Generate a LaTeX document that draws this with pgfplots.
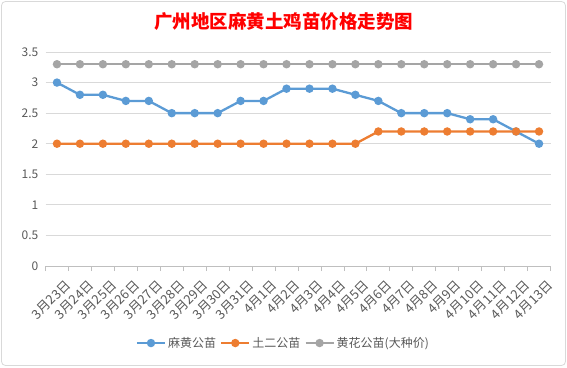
\documentclass[border=0pt]{standalone}
\usepackage{fontspec}
\setmainfont{Noto Sans CJK SC}
\usepackage{pgfplots}
\usepackage{pgfplotstable}
\pgfplotsset{compat=1.18}
\definecolor{cblue}{HTML}{5B9BD5}
\definecolor{corange}{HTML}{ED7D31}
\definecolor{cgray}{HTML}{A5A5A5}
\definecolor{ctext}{HTML}{595959}
\definecolor{cgrid}{HTML}{D9D9D9}
\definecolor{caxis}{HTML}{BFBFBF}
\pgfplotstableread{
x mahuang tuer huanghua
0 3.0 2.0 3.3
1 2.8 2.0 3.3
2 2.8 2.0 3.3
3 2.7 2.0 3.3
4 2.7 2.0 3.3
5 2.5 2.0 3.3
6 2.5 2.0 3.3
7 2.5 2.0 3.3
8 2.7 2.0 3.3
9 2.7 2.0 3.3
10 2.9 2.0 3.3
11 2.9 2.0 3.3
12 2.9 2.0 3.3
13 2.8 2.0 3.3
14 2.7 2.2 3.3
15 2.5 2.2 3.3
16 2.5 2.2 3.3
17 2.5 2.2 3.3
18 2.4 2.2 3.3
19 2.4 2.2 3.3
20 2.2 2.2 3.3
21 2.0 2.2 3.3
}\datatable
\begin{document}
\begin{tikzpicture}
\path[use as bounding box] (0pt,0pt) rectangle (567pt,367pt);
\draw[cgrid, line width=0.8pt, rounded corners=4pt] (1.5pt,1.5pt) rectangle (565.5pt,365.5pt);
\begin{axis}[
  at={(45.5pt,101pt)}, anchor=south west,
  scale only axis, width=505pt, height=214pt,
  xmin=-0.5, xmax=21.5, ymin=0, ymax=3.5,
  xtick={0,...,21},
  xticklabels={3月23日,3月24日,3月25日,3月26日,3月27日,3月28日,3月29日,3月30日,3月31日,4月1日,4月2日,4月3日,4月4日,4月5日,4月6日,4月7日,4月8日,4月9日,4月10日,4月11日,4月12日,4月13日},
  minor xtick={-0.5,0.5,...,21.5},
  ytick={0,0.5,1,1.5,2,2.5,3,3.5},
  yticklabels={0,0.5,1,1.5,2,2.5,3,3.5},
  /pgf/number format/assume math mode=true,
  separate axis lines,
  axis x line*=bottom, axis y line*=left,
  y axis line style={draw=none},
  x axis line style={caxis, line width=0.8pt},
  major tick length=0pt,
  minor tick length=5pt,
  tick align=outside,
  minor tick style={caxis, line width=0.8pt},
  ymajorgrids, major grid style={cgrid, line width=0.8pt},
  tick label style={font=\fontsize{12}{14}\selectfont, text=ctext},
  xticklabel style={font=\fontsize{13}{15}\selectfont, rotate=45, anchor=east, inner sep=0pt, xshift=-4pt, yshift=-20pt},
  yticklabel style={inner sep=2pt, xshift=-5pt},
  legend style={at={(0.471,-0.36)}, anchor=center, draw=none, fill=none,
    font=\fontsize{12}{14}\selectfont, text=ctext,
    /tikz/every even column/.append style={column sep=2pt}},
  legend columns=3,
  legend image code/.code={\draw[#1] (0pt,0pt) -- (28pt,0pt); \draw[#1, mark repeat=1] plot coordinates {(14pt,0pt)};},
  every axis plot/.append style={line width=2.3pt, mark=*, mark size=3pt, mark options={solid}},
]
\addplot[cblue, mark options={fill=cblue, draw=cblue}] table[x=x, y=mahuang] {\datatable};
\addplot[corange, mark options={fill=corange, draw=corange}] table[x=x, y=tuer] {\datatable};
\addplot[cgray, mark options={fill=cgray, draw=cgray}] table[x=x, y=huanghua] {\datatable};
\legend{麻黄公苗, 土二公苗, 黄花公苗(大种价)}
\end{axis}
\node[font=\fontsize{18.5}{20}\selectfont\bfseries, text=red] at (283.5pt,345pt) {广州地区麻黄土鸡苗价格走势图};
\end{tikzpicture}
\end{document}
